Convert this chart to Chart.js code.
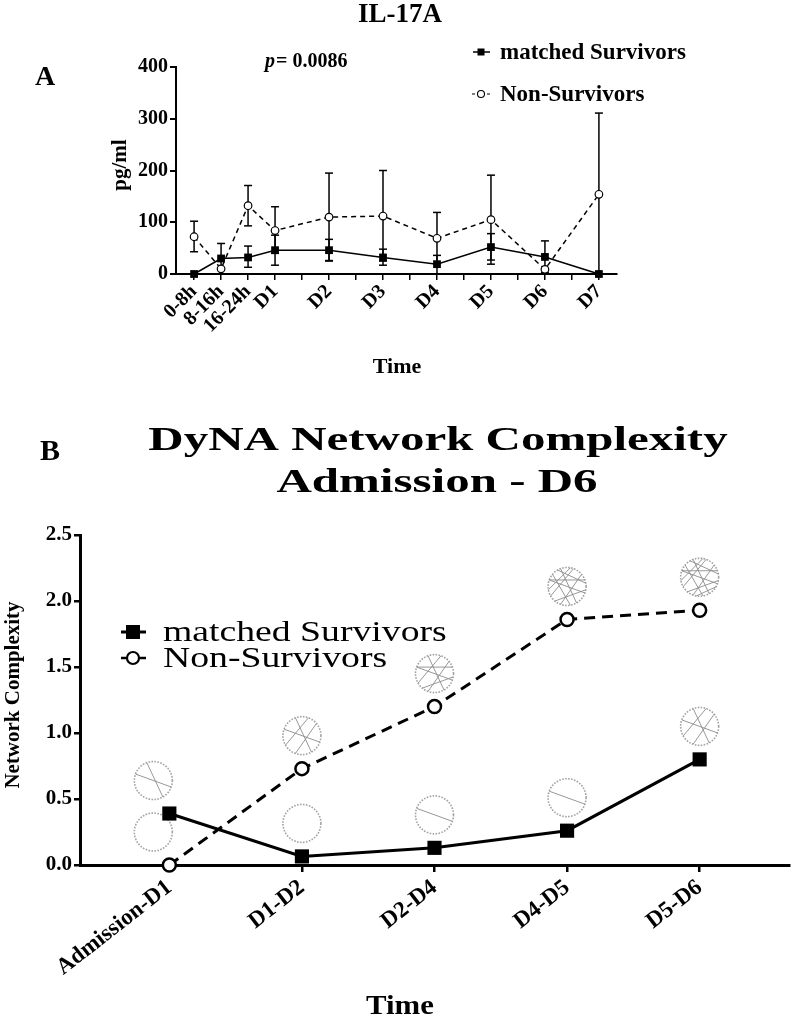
<!DOCTYPE html>
<html>
<head>
<meta charset="utf-8">
<script src="https://cdn.jsdelivr.net/npm/chart.js@4.4.1/dist/chart.umd.min.js"></script>
<style>
  html, body { margin: 0; padding: 0; background: #fff; }
  body { width: 799px; height: 1020px; position: relative; overflow: hidden; }
  .box { position: absolute; left: 0; width: 799px; }
</style>
</head>
<body>
<div class="box" style="top:0;height:400px"><canvas id="chartA"></canvas></div>
<div class="box" style="top:400px;height:620px"><canvas id="chartB"></canvas></div>
<script>
// ## Panel A data (IL-17A, pg/ml) ##############################################
const timeLabelsA = ['0-8h', '8-16h', '16-24h', 'D1', 'D2', 'D3', 'D4', 'D5', 'D6', 'D7'];
const timePosA    = [1, 2, 3, 4, 6, 8, 10, 12, 14, 16];
const survA       = [0, 30, 32, 46, 46, 32, 19, 52, 33, 0];
const survHiA     = [null, 59, 54, 75, 67, 48, 36, 78, 64, null];
const survLoA     = [null, 0, 13, 17, 26, 17, 0, 19, 3, null];
const nonA        = [72, 10, 132, 84, 110, 112, 69, 105, 9, 154];
const nonHiA      = [102, null, 171, 130, 195, 200, 119, 191, null, 311];
const nonLoA      = [43, null, 93, 40, 25, 25, 20, 27, null, 0];

// ## Panel B data (DyNA network complexity) ###################################
const periodsB = ['Admission-D1', 'D1-D2', 'D2-D4', 'D4-D5', 'D5-D6'];
const survB    = [0.39, 0.065, 0.13, 0.26, 0.80];
const nonB     = [0.0, 0.73, 1.20, 1.86, 1.93];

const SERIF = '"Liberation Serif", "Times New Roman", serif';

// ## helpers ###################################################################
function pts(xs, ys) { return ys.map((v, i) => ({ x: xs[i], y: v })); }

/** keep only whole-number ticks */
function intTicks(s) {
  s.ticks = s.ticks.filter(t => Math.abs(t.value - Math.round(t.value)) < 1e-6);
}

/** fix an axis box size so the plot area lands where the figure has it */
function pin(key, size) {
  return s => {
    s[key] = size;
    s.paddingTop = 0; s.paddingBottom = 0; s.paddingLeft = 0; s.paddingRight = 0;
  };
}

function drawText(ctx, t) {
  ctx.save();
  ctx.translate(t.x, t.y);
  if (t.rot) ctx.rotate(t.rot);
  if (t.sx) ctx.scale(t.sx, 1);
  ctx.font = t.font;
  ctx.fillStyle = '#000';
  ctx.textAlign = t.align || 'left';
  ctx.textBaseline = 'alphabetic';
  ctx.fillText(t.text, 0, 0);
  ctx.restore();
}

function marker(ctx, type, x, y, size, lw) {
  ctx.save();
  ctx.setLineDash([]);
  ctx.lineWidth = lw;
  ctx.strokeStyle = '#000';
  if (type === 'rect') {
    ctx.fillStyle = '#000';
    ctx.fillRect(x - size / 2, y - size / 2, size, size);
  } else {
    ctx.fillStyle = '#fff';
    ctx.beginPath(); ctx.arc(x, y, size / 2, 0, Math.PI * 2); ctx.fill(); ctx.stroke();
  }
  ctx.restore();
}

function seg(ctx, x1, x2, y, lw, dash) {
  ctx.save();
  ctx.strokeStyle = '#000'; ctx.lineWidth = lw; ctx.setLineDash(dash || []);
  ctx.beginPath(); ctx.moveTo(x1, y); ctx.lineTo(x2, y); ctx.stroke();
  ctx.restore();
}

// ## plugins ###################################################################

/** vertical error bars with caps, read from dataset.errHi / errLo */
const errorBars = {
  id: 'errorBars',
  beforeDatasetsDraw(chart) {
    const { ctx, scales: { x, y } } = chart;
    ctx.save();
    ctx.strokeStyle = '#000';
    ctx.lineWidth = 1.5;
    chart.data.datasets.forEach(ds => {
      if (!ds.errHi) return;
      ds.data.forEach((p, i) => {
        const px = x.getPixelForValue(p.x);
        const py = y.getPixelForValue(p.y);
        [ds.errHi[i], ds.errLo[i]].forEach(v => {
          if (v == null) return;
          const ey = y.getPixelForValue(v);
          ctx.beginPath(); ctx.moveTo(px, py); ctx.lineTo(px, ey); ctx.stroke();
          ctx.beginPath(); ctx.moveTo(px - 4, ey); ctx.lineTo(px + 4, ey); ctx.stroke();
        });
      });
    });
    ctx.restore();
  }
};

// small "network" glyphs sitting above each DyNA point
const chordSet = [[20, 200], [60, 250], [110, 320], [150, 290], [200, 340], [10, 130],
                  [170, 280], [80, 220], [240, 350], [100, 30], [130, 260], [300, 50]];
function drawNet(ctx, cx, cy, r, n) {
  ctx.save();
  ctx.strokeStyle = '#a3a3a3';
  ctx.lineWidth = 1.6;
  ctx.setLineDash([1.6, 1.4]);
  ctx.beginPath(); ctx.arc(cx, cy, r, 0, Math.PI * 2); ctx.stroke();
  ctx.setLineDash([]);
  ctx.strokeStyle = '#8c8c8c';
  ctx.lineWidth = 0.9;
  for (let i = 0; i < n; i++) {
    const [a, b] = chordSet[i % chordSet.length].map(d => d * Math.PI / 180);
    ctx.beginPath();
    ctx.moveTo(cx + r * Math.cos(a), cy + r * Math.sin(a));
    ctx.lineTo(cx + r * Math.cos(b), cy + r * Math.sin(b));
    ctx.stroke();
  }
  ctx.restore();
}

const netGlyphs = {
  id: 'netGlyphs',
  beforeDatasetsDraw(chart) {
    const { ctx } = chart;
    chart.data.datasets.forEach((ds, di) => {
      chart.getDatasetMeta(di).data.forEach((el, i) => {
        const dx = i === 0 ? -16 : 0;
        drawNet(ctx, el.x + dx, el.y - 33, 19, Math.round(ds.data[i].y * 5));
      });
    });
  }
};

function overlay(id, fn) { return { id, afterDraw(chart) { fn(chart.ctx); } }; }

const textA = overlay('textA', ctx => {
  drawText(ctx, { text: 'IL-17A', x: 400, y: 22, font: `bold 27px ${SERIF}`, align: 'center' });
  drawText(ctx, { text: 'A', x: 35, y: 85, font: `bold 28px ${SERIF}` });
  drawText(ctx, { text: 'p', x: 265, y: 67, font: `italic bold 20px ${SERIF}` });
  drawText(ctx, { text: '= 0.0086', x: 276, y: 67, font: `bold 20px ${SERIF}` });
  // legend
  seg(ctx, 473, 490, 52, 1.5);
  marker(ctx, 'rect', 481, 52, 7, 1);
  drawText(ctx, { text: 'matched Survivors', x: 500, y: 59, font: `bold 23px ${SERIF}` });
  seg(ctx, 472, 491, 94, 1.2, [3, 2]);
  marker(ctx, 'circle', 481, 94, 7, 1.1);
  drawText(ctx, { text: 'Non-Survivors', x: 500, y: 101, font: `bold 23px ${SERIF}` });
  // axis titles
  drawText(ctx, { text: 'pg/ml', x: 126, y: 165, rot: -Math.PI / 2, font: `bold 21px ${SERIF}`, align: 'center' });
  drawText(ctx, { text: 'Time', x: 397, y: 373, font: `bold 22px ${SERIF}`, align: 'center' });
});

const textB = overlay('textB', ctx => {
  drawText(ctx, { text: 'B', x: 40, y: 60, font: `bold 30px ${SERIF}` });
  drawText(ctx, { text: 'DyNA Network Complexity', x: 438, y: 50, sx: 1.44, font: `bold 34px ${SERIF}`, align: 'center' });
  drawText(ctx, { text: 'Admission - D6', x: 437, y: 92, sx: 1.44, font: `bold 34px ${SERIF}`, align: 'center' });
  // legend
  seg(ctx, 121, 146, 232, 3);
  marker(ctx, 'rect', 133, 232, 14, 1);
  drawText(ctx, { text: 'matched Survivors', x: 163, y: 241, sx: 1.3, font: `29px ${SERIF}` });
  seg(ctx, 121, 146, 258, 2.5);
  marker(ctx, 'circle', 133, 258, 12, 2.2);
  drawText(ctx, { text: 'Non-Survivors', x: 163, y: 267, sx: 1.3, font: `29px ${SERIF}` });
  // axis titles
  drawText(ctx, { text: 'Network Complexity', x: 19, y: 295, rot: -Math.PI / 2, font: `bold 21px ${SERIF}`, align: 'center' });
  drawText(ctx, { text: 'Time', x: 400, y: 614, sx: 1.1, font: `bold 28px ${SERIF}`, align: 'center' });
});

// ## Panel A chart ##############################################################
new Chart(document.getElementById('chartA'), {
  type: 'line',
  data: {
    datasets: [
      {
        label: 'matched Survivors', data: pts(timePosA, survA), errHi: survHiA, errLo: survLoA,
        borderColor: '#000', borderWidth: 1.5, tension: 0, clip: false,
        pointStyle: 'rect', pointRadius: 5.5, pointBackgroundColor: '#000', pointBorderColor: '#000', pointBorderWidth: 0
      },
      {
        label: 'Non-Survivors', data: pts(timePosA, nonA), errHi: nonHiA, errLo: nonLoA,
        borderColor: '#000', borderWidth: 1.5, borderDash: [5, 4], tension: 0, clip: false,
        pointStyle: 'circle', pointRadius: 3.8, pointBackgroundColor: '#fff', pointBorderColor: '#000', pointBorderWidth: 1.2
      }
    ]
  },
  options: {
    responsive: true,
    maintainAspectRatio: false,
    animation: false,
    layout: { padding: { top: 67, right: 182, bottom: 0, left: 0 } },
    plugins: { legend: { display: false }, tooltip: { enabled: false } },
    scales: {
      x: {
        type: 'linear', min: 0.33, max: 16.67,
        afterBuildTicks: intTicks,
        afterFit: pin('height', 126),
        ticks: {
          stepSize: 1, includeBounds: false, autoSkip: false, minRotation: 45, maxRotation: 45, padding: 0,
          color: '#000', font: { family: SERIF, weight: 'bold', size: 20 },
          callback: v => { const i = timePosA.indexOf(Math.round(v)); return i >= 0 ? timeLabelsA[i] : ''; }
        },
        grid: { drawOnChartArea: false, drawTicks: true, tickLength: 6, color: '#000', lineWidth: 1.5 },
        border: { color: '#000', width: 2 }
      },
      y: {
        min: 0, max: 400,
        afterFit: pin('width', 176),
        ticks: { stepSize: 100, padding: 2, color: '#000', font: { family: SERIF, weight: 'bold', size: 20 } },
        grid: { drawOnChartArea: false, drawTicks: true, tickLength: 6, color: '#000', lineWidth: 2 },
        border: { color: '#000', width: 2 }
      }
    }
  },
  plugins: [errorBars, textA]
});

// ## Panel B chart ##############################################################
new Chart(document.getElementById('chartB'), {
  type: 'line',
  data: {
    datasets: [
      {
        label: 'matched Survivors', data: pts([0, 1, 2, 3, 4], survB),
        borderColor: '#000', borderWidth: 3, tension: 0, clip: false,
        pointStyle: 'rect', pointRadius: 10, pointBackgroundColor: '#000', pointBorderColor: '#000', pointBorderWidth: 0
      },
      {
        label: 'Non-Survivors', data: pts([0, 1, 2, 3, 4], nonB),
        borderColor: '#000', borderWidth: 3, borderDash: [11, 7], tension: 0, clip: false,
        pointStyle: 'circle', pointRadius: 6.5, pointBackgroundColor: '#fff', pointBorderColor: '#000', pointBorderWidth: 2.5
      }
    ]
  },
  options: {
    responsive: true,
    maintainAspectRatio: false,
    animation: false,
    layout: { padding: { top: 135, right: 0, bottom: 0, left: 0 } },
    plugins: { legend: { display: false }, tooltip: { enabled: false } },
    scales: {
      x: {
        type: 'linear', min: -0.674, max: 4.674,
        afterBuildTicks: intTicks,
        afterFit: pin('height', 155),
        ticks: {
          stepSize: 1, includeBounds: false, autoSkip: false, minRotation: 38, maxRotation: 38, padding: 2,
          color: '#000', font: { family: SERIF, weight: 'bold', size: 23 },
          callback: v => periodsB[Math.round(v)] ?? ''
        },
        grid: { drawOnChartArea: false, drawTicks: true, tickLength: 7, color: '#000', lineWidth: 2.5 },
        border: { color: '#000', width: 3 }
      },
      y: {
        min: 0, max: 2.5,
        afterFit: pin('width', 80),
        ticks: {
          stepSize: 0.5, padding: 2, color: '#000', font: { family: SERIF, weight: 'bold', size: 21 },
          callback: v => v.toFixed(1)
        },
        grid: { drawOnChartArea: false, drawTicks: true, tickLength: 6, color: '#000', lineWidth: 2.5 },
        border: { color: '#000', width: 3 }
      }
    }
  },
  plugins: [netGlyphs, textB]
});
</script>
</body>
</html>
